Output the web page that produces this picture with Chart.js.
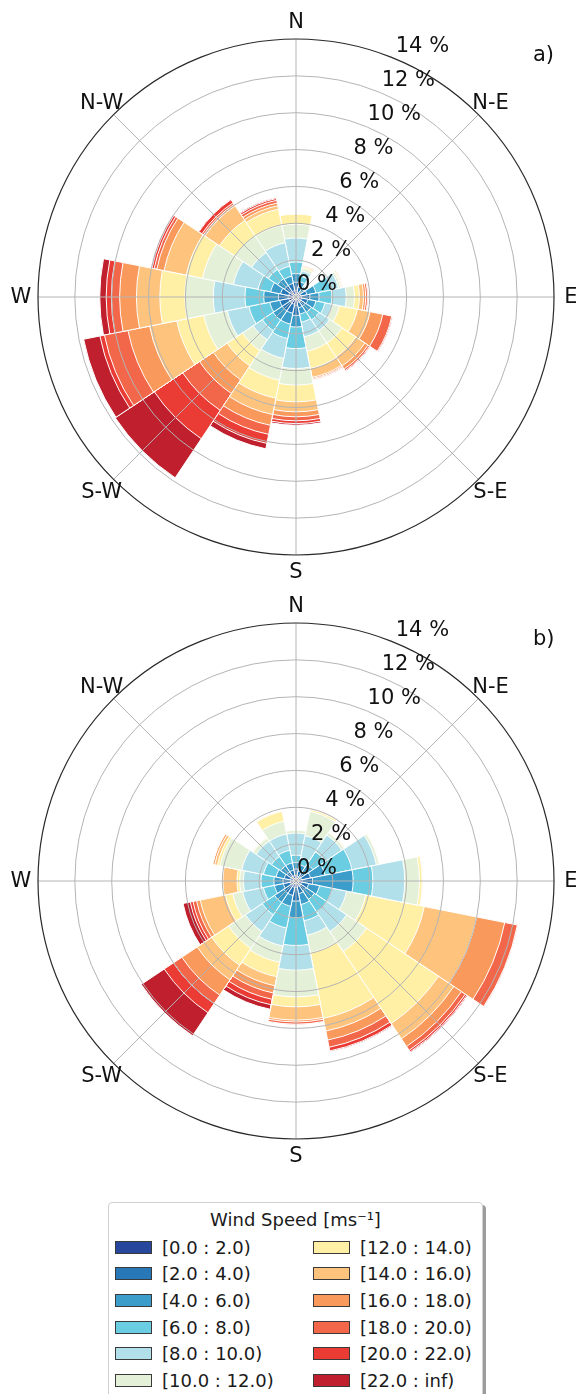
<!DOCTYPE html>
<html>
<head>
<meta charset="utf-8">
<script src="https://cdn.jsdelivr.net/npm/chart.js@4.4.1/dist/chart.umd.min.js"></script>
<style>
  html, body { margin: 0; padding: 0; background: #fff; overflow: hidden; }
  #page { position: relative; width: 576px; height: 1394px; }
  #page canvas { position: absolute; left: 0; }
  #roseA { top: 0; }
  #roseB { top: 584px; }
  #legend {
    position: absolute; left: 108px; top: 1202px; width: 375px; height: 205px;
    box-sizing: border-box; border: 1px solid #d0d0d0; border-radius: 4px;
    box-shadow: 3px 3px 0 #9c9c9c; background: #fff;
    font-family: "DejaVu Sans", sans-serif; font-size: 18px; color: #1a1a1a;
  }
  #legend .title { position: absolute; left: 0; width: 100%; top: 5px; height: 24px; line-height: 24px; text-align: center; }
  #legend .item { position: absolute; height: 24px; display: flex; align-items: center; white-space: nowrap; }
  #legend .sw { width: 35px; height: 11px; border: 1px solid #3a3a3a; margin-right: 10px; }
</style>
</head>
<body>
<div id="page">
  <canvas id="roseA" width="576" height="584"></canvas>
  <canvas id="roseB" width="576" height="584"></canvas>
  <div id="legend"><div class="title">Wind Speed [ms⁻¹]</div></div>
</div>
<script>
// Sixteen compass sectors, clockwise from north
const directions = ['N','NNE','NE','ENE','E','ESE','SE','SSE','S','SSW','SW','WSW','W','WNW','NW','NNW'];
// Labelled compass points (every 45°)
const compassLabels = ['N','N-E','E','S-E','S','S-W','W','N-W'];
// Radial rings (frequency, %)
const ringTicks = [0, 2, 4, 6, 8, 10, 12, 14];
const rMax = 14;

const speedBins = ['[0.0 : 2.0)','[2.0 : 4.0)','[4.0 : 6.0)','[6.0 : 8.0)','[8.0 : 10.0)','[10.0 : 12.0)',
                   '[12.0 : 14.0)','[14.0 : 16.0)','[16.0 : 18.0)','[18.0 : 20.0)','[20.0 : 22.0)','[22.0 : inf)'];
const binColors = ['#26479c','#2878b8','#3c9dca','#6bcde2','#b1e0ea','#e4f1d8',
                   '#fff0a6','#fec47e','#f9995b','#f2674a','#ea3b35','#c01f2e'];

// Panel a) frequency (%) per speed bin, one value per direction
const a_0_2   = [0.36,0.25,0.15,0.25,0.30,0.30,0.30,0.30,0.45,0.40,0.40,0.40,0.42,0.40,0.35,0.35];
const a_2_4   = [0.44,0.30,0.20,0.35,0.45,0.35,0.30,0.30,0.55,0.50,0.50,0.50,0.53,0.45,0.40,0.40];
const a_4_6   = [0.47,0.30,0.20,0.50,0.50,0.45,0.40,0.35,0.63,0.60,0.60,0.55,0.80,0.55,0.45,0.40];
const a_6_8   = [0.63,0.30,0.15,0.85,0.70,0.50,0.50,0.45,1.17,0.80,0.70,1.15,1.02,0.70,0.60,0.55];
const a_8_10  = [1.30,0.30,0.06,0.40,0.77,0.40,0.70,0.80,1.08,1.10,0.60,1.20,1.72,1.36,1.10,1.30];
const a_10_12 = [0.75,0.15,0.02,0.13,0.45,0.40,0.80,0.80,0.90,1.20,0.70,1.30,1.54,1.71,1.10,0.97];
const a_12_14 = [0.55,0.08,0.01,0.05,0.27,1.00,0.90,0.95,0.91,1.00,1.00,1.50,1.36,0.90,1.00,0.89];
const a_14_16 = [0.00,0.06,0.01,0.05,0.22,0.70,0.60,0.50,0.54,0.90,0.90,1.50,1.27,1.23,0.95,0.19];
const a_16_18 = [0.00,0.02,0.00,0.02,0.12,0.70,0.20,0.07,0.27,0.60,0.90,1.20,0.91,0.40,0.10,0.15];
const a_18_20 = [0.00,0.00,0.00,0.00,0.10,0.50,0.10,0.05,0.22,0.50,1.10,1.30,0.45,0.15,0.10,0.15];
const a_20_22 = [0.00,0.00,0.00,0.00,0.04,0.05,0.05,0.03,0.15,0.50,1.85,0.25,0.28,0.12,0.20,0.10];
const a_22_up = [0.00,0.00,0.00,0.00,0.00,0.02,0.02,0.01,0.09,0.30,2.55,0.90,0.35,0.06,0.03,0.05];

// Panel b) frequency (%) per speed bin, one value per direction
const b_0_2   = [0.30,0.25,0.25,0.30,0.35,0.30,0.30,0.30,0.35,0.35,0.35,0.30,0.30,0.30,0.30,0.30];
const b_2_4   = [0.35,0.30,0.35,0.50,0.55,0.40,0.35,0.40,0.74,0.45,0.45,0.40,0.40,0.35,0.30,0.30];
const b_4_6   = [0.35,0.35,0.50,0.80,2.20,0.60,0.55,0.60,0.90,0.60,0.60,0.50,0.50,0.45,0.40,0.40];
const b_6_8   = [0.40,0.40,0.80,1.50,1.07,0.70,0.80,0.90,1.51,1.20,0.80,0.60,0.70,0.70,0.60,0.70];
const b_8_10  = [1.20,1.20,1.10,1.35,1.73,0.80,1.30,0.80,1.34,1.00,1.10,1.15,0.95,1.20,1.00,0.90];
const b_10_12 = [0.15,1.35,0.15,0.15,0.80,1.06,1.30,0.97,1.45,0.90,1.10,0.55,0.20,1.20,0.20,0.70];
const b_12_14 = [0.00,0.10,0.05,0.03,0.15,3.24,4.70,3.63,0.54,0.80,1.10,0.40,0.15,0.15,0.05,0.55];
const b_14_16 = [0.00,0.05,0.00,0.00,0.03,2.90,1.00,0.70,0.72,0.50,0.95,1.40,0.77,0.15,0.00,0.02];
const b_16_18 = [0.00,0.03,0.00,0.00,0.00,1.55,0.50,0.50,0.10,0.40,1.00,0.20,0.00,0.10,0.00,0.00];
const b_18_20 = [0.00,0.00,0.00,0.00,0.00,0.70,0.25,0.40,0.12,0.35,0.55,0.20,0.00,0.00,0.00,0.00];
const b_20_22 = [0.00,0.00,0.00,0.00,0.00,0.02,0.10,0.20,0.01,0.30,0.60,0.15,0.00,0.00,0.00,0.00];
const b_22_up = [0.00,0.00,0.00,0.00,0.00,0.00,0.05,0.05,0.00,0.25,1.50,0.40,0.00,0.00,0.00,0.00];

const binsA = [a_0_2,a_2_4,a_4_6,a_6_8,a_8_10,a_10_12,a_12_14,a_14_16,a_16_18,a_18_20,a_20_22,a_22_up];
const binsB = [b_0_2,b_2_4,b_4_6,b_6_8,b_8_10,b_10_12,b_12_14,b_14_16,b_16_18,b_18_20,b_20_22,b_22_up];

const FONT = "21px 'DejaVu Sans'";
const deg = Math.PI / 180;

// Grid, compass labels and ring labels drawn over the stacked sectors
const roseOverlay = {
  id: 'roseOverlay',
  afterDatasetsDraw(chart, args, opts) {
    const s = chart.scales.r;
    const ctx = chart.ctx;
    const cx = s.xCenter, cy = s.yCenter;
    const R = s.getDistanceFromCenterForValue(rMax);
    ctx.save();
    ctx.strokeStyle = '#b4b4b4';
    ctx.lineWidth = 1;
    ringTicks.forEach(v => {
      if (v <= 0 || v >= rMax) return;
      ctx.beginPath();
      ctx.arc(cx, cy, s.getDistanceFromCenterForValue(v), 0, 2 * Math.PI);
      ctx.stroke();
    });
    compassLabels.forEach((lab, i) => {
      const a = i * 45 * deg;
      ctx.beginPath();
      ctx.moveTo(cx, cy);
      ctx.lineTo(cx + R * Math.sin(a), cy - R * Math.cos(a));
      ctx.stroke();
    });
    ctx.strokeStyle = '#2a2a2a';
    ctx.lineWidth = 1.2;
    ctx.beginPath();
    ctx.arc(cx, cy, R, 0, 2 * Math.PI);
    ctx.stroke();

    ctx.fillStyle = '#111';
    ctx.font = FONT;
    ctx.textAlign = 'center';
    ctx.textBaseline = 'middle';
    compassLabels.forEach((lab, i) => {
      const a = i * 45 * deg;
      ctx.fillText(lab, cx + (R + 17) * Math.sin(a), cy - (R + 17) * Math.cos(a) + 1);
    });
    ctx.textAlign = 'left';
    const la = 22.5 * deg;
    ringTicks.forEach(v => {
      const r = s.getDistanceFromCenterForValue(v);
      ctx.fillText(v + ' %', cx + r * Math.sin(la) + 1, cy - r * Math.cos(la) - 12);
    });
    ctx.fillText(opts.tag, cx + 237, cy - 241);
    ctx.restore();
  }
};

function makeRose(canvasId, bins, tag) {
  // each dataset is the running total up to its bin; the lowest bin sits on top
  let running = directions.map(() => 0);
  const datasets = bins.map((vals, k) => {
    running = running.map((c, i) => c + vals[i]);
    return {
      label: speedBins[k],
      data: running.slice(),
      backgroundColor: binColors[k],
      borderColor: '#ffffff',
      borderWidth: 1
    };
  });
  return new Chart(document.getElementById(canvasId), {
    type: 'polarArea',
    data: { labels: directions, datasets },
    options: {
      responsive: false,
      animation: false,
      devicePixelRatio: 1,
      layout: { padding: { left: 38, right: 22, top: 39, bottom: 29 } },
      plugins: {
        legend: { display: false },
        tooltip: { enabled: false },
        roseOverlay: { tag }
      },
      scales: {
        r: {
          min: 0, max: rMax,
          startAngle: -11.25,
          ticks: { display: false },
          grid: { display: false },
          angleLines: { display: false },
          pointLabels: { display: false }
        }
      }
    },
    plugins: [roseOverlay]
  });
}

makeRose('roseA', binsA, 'a)');
makeRose('roseB', binsB, 'b)');

// Two-column legend of speed classes
const legend = document.getElementById('legend');
const rowTops = [32, 58.5, 85, 112, 138, 165];
speedBins.forEach((lab, k) => {
  const col = k < 6 ? 0 : 1;
  const row = k % 6;
  const item = document.createElement('div');
  item.className = 'item';
  item.style.left = (col === 0 ? 6 : 204) + 'px';
  item.style.top = rowTops[row] + 'px';
  const sw = document.createElement('span');
  sw.className = 'sw';
  sw.style.background = binColors[k];
  const tx = document.createElement('span');
  tx.textContent = lab;
  item.appendChild(sw);
  item.appendChild(tx);
  legend.appendChild(item);
});
</script>
</body>
</html>
